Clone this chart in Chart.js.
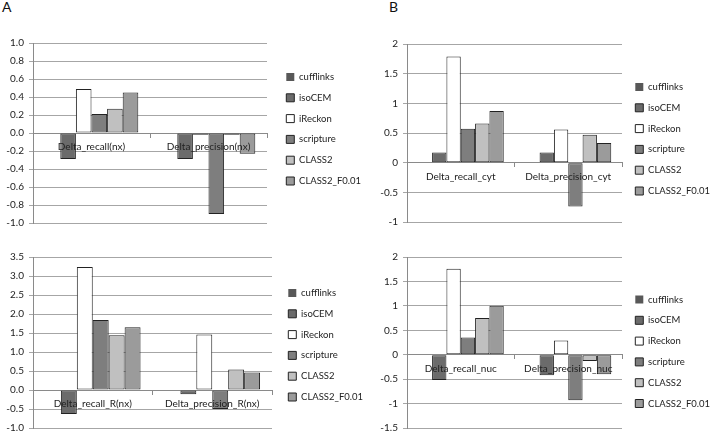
<!DOCTYPE html>
<html lang="en">
<head>
<meta charset="UTF-8">
<title>Delta recall / precision</title>
<script src="https://cdn.jsdelivr.net/npm/chart.js"></script>
<style>
  body { margin: 0; background: #fff; font-family: Lato, sans-serif; }
  #page { position: relative; width: 710px; height: 439px; overflow: hidden; }
  .panel { position: absolute; }
  .tag { position: absolute; font-size: 14px; color: #111; }
</style>
</head>
<body>
<div id="page">
  <div class="tag" style="left:2px;top:-2px">A</div>
  <div class="tag" style="left:389px;top:-2px">B</div>
  <canvas class="panel" id="chartB1" width="350" height="235" style="left:360px;top:0"></canvas>
  <canvas class="panel" id="chartB2" width="350" height="204" style="left:360px;top:235px"></canvas>
  <canvas class="panel" id="chartA1" width="372" height="235" style="left:0;top:0"></canvas>
  <canvas class="panel" id="chartA2" width="372" height="204" style="left:0;top:235px"></canvas>
</div>

<script>
// tools, in legend order (cufflinks is the baseline, so its deltas are 0)
const tools = ['cufflinks', 'isoCEM', 'iReckon', 'scripture', 'CLASS2', 'CLASS2_F0.01'];
const toolColors = ['#585858', '#6b6b6b', '#ffffff', '#7e7e7e', '#c0c0c0', '#9b9b9b'];

// panel A, top
const catsA1 = ['Delta_recall(nx)', 'Delta_precision(nx)'];
const recallNx = [0, -0.29, 0.49, 0.21, 0.27, 0.45];
const precisionNx = [0, -0.29, -0.02, -0.90, -0.02, -0.23];
const ticksA1 = [-1.0, -0.8, -0.6, -0.4, -0.2, 0.0, 0.2, 0.4, 0.6, 0.8, 1.0];

// panel A, bottom
const catsA2 = ['Delta_recall_R(nx)', 'Delta_precision_R(nx)'];
const recallRNx = [0, -0.63, 3.24, 1.84, 1.44, 1.65];
const precisionRNx = [0, -0.11, 1.46, -0.50, 0.54, 0.46];
const ticksA2 = [-1.0, -0.5, 0.0, 0.5, 1.0, 1.5, 2.0, 2.5, 3.0, 3.5];

// panel B, top
const catsB1 = ['Delta_recall_cyt', 'Delta_precision_cyt'];
const recallCyt = [0, 0.17, 1.79, 0.57, 0.66, 0.87];
const precisionCyt = [0, 0.17, 0.56, -0.74, 0.47, 0.33];
const ticksB1 = [-1, -0.5, 0, 0.5, 1, 1.5, 2];

// panel B, bottom
const catsB2 = ['Delta_recall_nuc', 'Delta_precision_nuc'];
const recallNuc = [0, -0.52, 1.76, 0.35, 0.75, 1.00];
const precisionNuc = [0, -0.42, 0.29, -0.93, -0.13, -0.40];
const ticksB2 = [-1.5, -1, -0.5, 0, 0.5, 1, 1.5, 2];

Chart.defaults.font.family = 'Lato, "Open Sans", sans-serif';
Chart.defaults.font.size = 10;
Chart.defaults.color = '#222';

// moves the legend a little away from the plot, and lets it use the rest of the canvas
const legendNudge = {
    id: 'legendNudge',
    afterLayout(chart, args, opts) {
        const l = chart.legend;
        l.left += opts.dx;
        l.right = chart.width;
        l.top += opts.dy; l.bottom += opts.dy;
    }
};

function makeChart(id, cats, first, second, ticks, decimals, box) {
    const datasets = tools.map((name, i) => ({
        label: name,
        data: [first[i], second[i]],
        backgroundColor: toolColors[i],
        borderColor: i === 0 ? toolColors[i] : '#222',
        borderWidth: i === 0 ? 0 : 1,
        borderSkipped: false,
        barPercentage: 1,
        categoryPercentage: 0.8
    }));

    return new Chart(document.getElementById(id), {
        type: 'bar',
        data: { labels: cats, datasets: datasets },
        plugins: [legendNudge],
        options: {
            responsive: false,
            animation: false,
            layout: { padding: { left: 0, right: box.right, top: box.top, bottom: box.bottom } },
            scales: {
                x: {
                    position: { y: 0 },
                    grid: { drawOnChartArea: false, tickLength: 4, color: '#8a8a8a' },
                    border: { color: '#8a8a8a' },
                    // labels sit on top of the bars
                    ticks: { z: 1, padding: 4, color: '#222', maxRotation: 0 }
                },
                y: {
                    min: ticks[0],
                    max: ticks[ticks.length - 1],
                    afterFit: s => { s.width = box.axis; },
                    afterBuildTicks: s => { s.ticks = ticks.map(v => ({ value: v })); },
                    grid: { color: '#a6a6a6', tickLength: 4 },
                    border: { color: '#8a8a8a' },
                    ticks: {
                        padding: 5,
                        color: '#222',
                        callback: v => decimals ? Number(v).toFixed(1) : String(v)
                    }
                }
            },
            plugins: {
                tooltip: { enabled: false },
                legendNudge: { dx: box.dx, dy: box.dy },
                legend: {
                    position: 'right',
                    maxWidth: 80,
                    labels: { boxWidth: 8, boxHeight: 8, padding: 11.3, color: '#222', font: { size: 9.5 } }
                }
            }
        }
    });
}

makeChart('chartA1', catsA1, recallNx, precisionNx, ticksA1, true,
    { top: 43, bottom: 12, right: 25, axis: 33, dx: 8, dy: -4 });
makeChart('chartA2', catsA2, recallRNx, precisionRNx, ticksA2, true,
    { top: 22, bottom: 6, right: 20, axis: 33, dx: 5, dy: 0 });
makeChart('chartB1', catsB1, recallCyt, precisionCyt, ticksB1, false,
    { top: 44, bottom: 13, right: 8, axis: 47, dx: 2, dy: 6 });
makeChart('chartB2', catsB2, recallNuc, precisionNuc, ticksB2, false,
    { top: 22, bottom: 7, right: 8, axis: 47, dx: 2, dy: 7 });
</script>
</body>
</html>
